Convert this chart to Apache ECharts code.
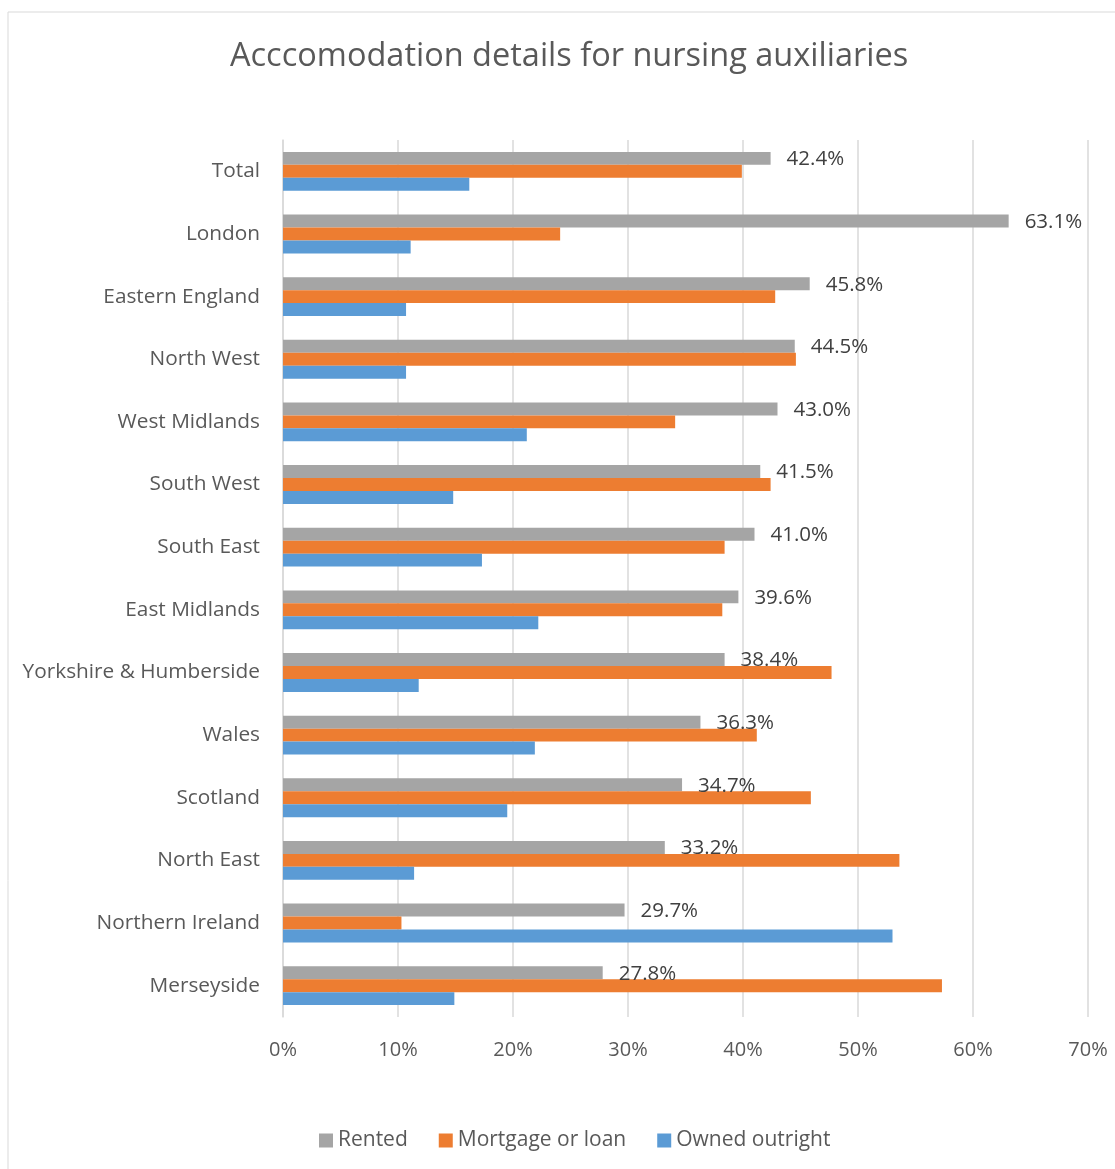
<!DOCTYPE html>
<html>
<head>
<meta charset="utf-8">
<title>Acccomodation details for nursing auxiliaries</title>
<script src="https://cdn.jsdelivr.net/npm/echarts@6/dist/echarts.min.js"></script>
<style>
  html, body { margin: 0; padding: 0; background: #fff; }
  #chart { width: 1115px; height: 1169px; }
</style>
</head>
<body>
<div id="chart"></div>
<script>
const regions = [
  'Total', 'London', 'Eastern England', 'North West', 'West Midlands',
  'South West', 'South East', 'East Midlands', 'Yorkshire & Humberside',
  'Wales', 'Scotland', 'North East', 'Northern Ireland', 'Merseyside'
]
const rented = [42.4, 63.1, 45.8, 44.5, 43.0, 41.5, 41.0, 39.6, 38.4, 36.3, 34.7, 33.2, 29.7, 27.8]
const mortgage = [39.9, 24.1, 42.8, 44.6, 34.1, 42.4, 38.4, 38.2, 47.7, 41.2, 45.9, 53.6, 10.3, 57.3]
const owned = [16.2, 11.1, 10.7, 10.7, 21.2, 14.8, 17.3, 22.2, 11.8, 21.9, 19.5, 11.4, 53.0, 14.9]

const font = '"Open Sans", "Noto Sans", sans-serif'
const textColor = '#595959'
const gridColor = '#D9D9D9'

const chart = echarts.init(document.getElementById('chart'))

function barSeries(name, data, color, withLabel) {
  return {
    name: name,
    type: 'bar',
    data: data,
    barGap: '0%',
    barCategoryGap: '38%',
    itemStyle: { color: color },
    label: {
      show: withLabel,
      position: 'right',
      distance: 16,
      offset: [0, 1],
      color: '#404040',
      fontFamily: font,
      fontSize: 20.5,
      formatter: p => p.value.toFixed(1) + '%'
    },
    animation: false
  }
}

chart.setOption({
  backgroundColor: '#fff',
  title: {
    text: 'Acccomodation details for nursing auxiliaries',
    left: 225,
    top: 35,
    textStyle: { color: textColor, fontFamily: font, fontSize: 32.5, fontWeight: 'normal' }
  },
  graphic: [{
    type: 'rect',
    shape: { x: 8, y: 12, width: 1200, height: 1300 },
    style: { fill: 'none', stroke: gridColor, lineWidth: 1 },
    silent: true
  }],
  legend: {
    top: 1125,
    left: 314,
    icon: 'rect',
    itemWidth: 14,
    itemHeight: 14,
    itemGap: 31,
    textStyle: { color: textColor, fontFamily: font, fontSize: 21 }
  },
  grid: { left: 283, right: 27, top: 140, bottom: 152, containLabel: false },
  xAxis: {
    type: 'value',
    min: 0,
    max: 70,
    interval: 10,
    axisLine: { show: false },
    axisTick: { show: false },
    splitLine: { lineStyle: { color: gridColor, width: 1.5 } },
    axisLabel: {
      formatter: '{value}%',
      color: textColor,
      fontFamily: font,
      fontSize: 20,
      margin: 23
    }
  },
  yAxis: {
    type: 'category',
    data: regions,
    inverse: true,
    axisLine: { show: true, lineStyle: { color: gridColor, width: 1.5 } },
    axisTick: { show: false },
    axisLabel: { color: textColor, fontFamily: font, fontSize: 20.8, margin: 23 }
  },
  series: [
    barSeries('Rented', rented, '#A5A5A5', true),
    barSeries('Mortgage or loan', mortgage, '#ED7D31', false),
    barSeries('Owned outright', owned, '#5B9BD5', false)
  ]
})
</script>
</body>
</html>
